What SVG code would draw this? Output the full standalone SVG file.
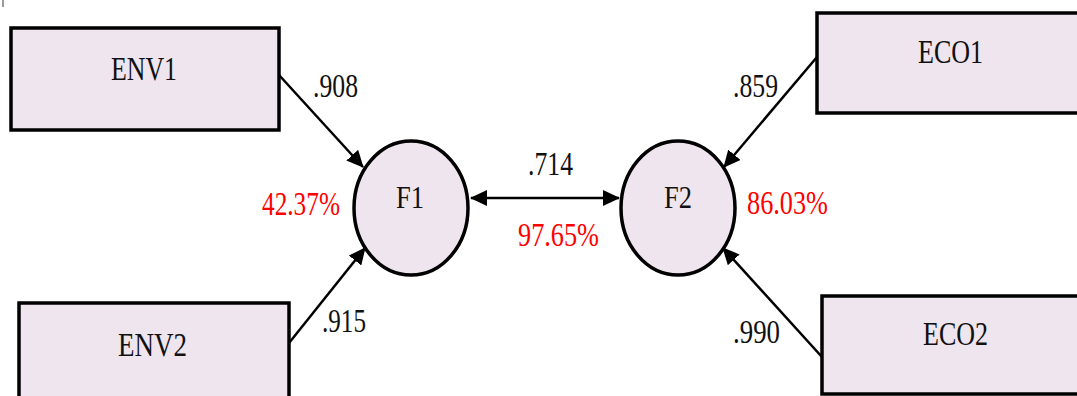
<svg xmlns="http://www.w3.org/2000/svg" width="1077" height="396" viewBox="0 0 1077 396">
<defs>
<style>
text{font-family:'Liberation Serif','Times New Roman',Times,serif}
.box{fill:#EFE5EF;stroke:#000;stroke-width:3.5}
.lat{fill:#EFE5EF;stroke:#000;stroke-width:3.5}
.lbl{font-size:34px;fill:#111}
.num{font-size:34px;fill:#111}
.pct{font-size:33px;fill:#FF0000}
.f{font-size:32px;fill:#111}
.con{stroke:#000;stroke-width:2.5;fill:none}
</style>
<marker id="ah" markerUnits="userSpaceOnUse" markerWidth="17" markerHeight="16" refX="16" refY="8" orient="auto-start-reverse" viewBox="0 0 17 16">
<path d="M0,0 L17,8 L0,16 z" fill="#000"/>
</marker>
</defs>
<rect x="2" y="0" width="2" height="7" fill="#999"/>
<g id="connectors">
<line class="con" x1="279" y1="75" x2="363" y2="167" marker-end="url(#ah)"/>
<line class="con" x1="289" y1="343" x2="365" y2="248" marker-end="url(#ah)"/>
<line class="con" x1="817" y1="57" x2="724" y2="167" marker-end="url(#ah)"/>
<line class="con" x1="822" y1="357" x2="723" y2="248" marker-end="url(#ah)"/>
<line class="con" x1="471" y1="198" x2="619" y2="198" marker-start="url(#ah)" marker-end="url(#ah)"/>
<text class="num" x="313" y="97" textLength="45" lengthAdjust="spacingAndGlyphs">.908</text>
<text class="num" x="322" y="332" textLength="44" lengthAdjust="spacingAndGlyphs">.915</text>
<text class="num" x="733" y="97" textLength="45" lengthAdjust="spacingAndGlyphs">.859</text>
<text class="num" x="733" y="343" textLength="47" lengthAdjust="spacingAndGlyphs">.990</text>
<text class="num" x="528" y="175" textLength="45" lengthAdjust="spacingAndGlyphs">.714</text>
<text class="pct" x="518" y="246" textLength="81" lengthAdjust="spacingAndGlyphs">97.65%</text>
</g>
<g id="ENV1">
<rect class="box" x="11" y="28" width="268" height="102"/>
<text class="lbl" x="111" y="80" textLength="66" lengthAdjust="spacingAndGlyphs">ENV1</text>
</g>
<g id="ENV2">
<rect class="box" x="19" y="303" width="270" height="100"/>
<text class="lbl" x="118" y="356" textLength="69" lengthAdjust="spacingAndGlyphs">ENV2</text>
</g>
<g id="ECO1">
<rect class="box" x="817" y="13" width="270" height="100"/>
<text class="lbl" x="918" y="63" textLength="65" lengthAdjust="spacingAndGlyphs">ECO1</text>
</g>
<g id="ECO2">
<rect class="box" x="822" y="296" width="265" height="98"/>
<text class="lbl" x="923" y="345" textLength="65" lengthAdjust="spacingAndGlyphs">ECO2</text>
</g>
<g id="F1">
<ellipse class="lat" cx="411" cy="208" rx="57" ry="67"/>
<text class="f" x="396" y="208" textLength="28" lengthAdjust="spacingAndGlyphs">F1</text>
<text class="pct" x="262" y="215" textLength="78" lengthAdjust="spacingAndGlyphs">42.37%</text>
</g>
<g id="F2">
<ellipse class="lat" cx="678" cy="208" rx="57" ry="67"/>
<text class="f" x="664" y="208" textLength="28" lengthAdjust="spacingAndGlyphs">F2</text>
<text class="pct" x="747" y="214" textLength="81" lengthAdjust="spacingAndGlyphs">86.03%</text>
</g>
</svg>
